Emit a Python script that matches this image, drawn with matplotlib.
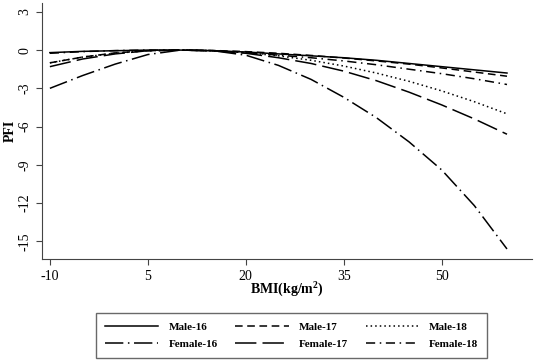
import numpy as np
import matplotlib.pyplot as plt

plt.rcParams['font.family'] = ['Liberation Serif', 'DejaVu Serif']
plt.rcParams['axes.unicode_minus'] = False
plt.rcParams['mathtext.default'] = 'regular'

bmi = [-10, -5, 0, 5, 10, 15, 20, 25, 30, 35, 40, 45, 50, 55, 60]

male_16 = [-0.2, -0.1, -0.05, 0, 0, -0.05, -0.15, -0.3, -0.45, -0.6, -0.8, -1.05, -1.3, -1.55, -1.8]
male_17 = [-1.0, -0.55, -0.22, -0.05, 0, -0.03, -0.12, -0.25, -0.42, -0.62, -0.85, -1.1, -1.4, -1.72, -2.05]
male_18 = [-1.0, -0.55, -0.25, -0.05, 0, -0.05, -0.2, -0.45, -0.8, -1.25, -1.8, -2.45, -3.2, -4.05, -5.0]
female_16 = [-3.0, -2.0, -1.1, -0.35, 0, -0.05, -0.4, -1.2, -2.3, -3.7, -5.3, -7.2, -9.4, -12.2, -15.6]
female_17 = [-1.3, -0.7, -0.3, -0.05, 0, -0.05, -0.25, -0.6, -1.05, -1.65, -2.4, -3.3, -4.3, -5.4, -6.6]
female_18 = [-0.25, -0.12, -0.04, 0, 0, -0.05, -0.2, -0.4, -0.6, -0.85, -1.15, -1.5, -1.85, -2.25, -2.7]

series = [
    ('Male-16', male_16, '-'),
    ('Male-17', male_17, (0, (5, 3))),
    ('Male-18', male_18, (0, (1, 2))),
    ('Female-16', female_16, (0, (12, 3, 1, 3))),
    ('Female-17', female_17, (0, (14, 4))),
    ('Female-18', female_18, (0, (6, 3, 1, 3))),
]

fig = plt.figure(figsize=(5.46, 3.64), dpi=100)
ax = fig.add_axes([0.077, 0.288, 0.897, 0.704])

handles = []
for name, vals, ls in series:
    h, = ax.plot(bmi, vals, color='black', linestyle=ls, linewidth=1.1, label=name)
    handles.append(h)

ax.set_xlim(-11.2, 63.8)
ax.set_ylim(-16.4, 3.7)
ax.set_xticks([-10, 5, 20, 35, 50])
ax.set_yticks([3, 0, -3, -6, -9, -12, -15])
ax.tick_params(direction='out', length=4, labelsize=10, color='#444444')
for lab in ax.get_yticklabels():
    lab.set_rotation(90)
    lab.set_va('center')
ax.spines['top'].set_visible(False)
ax.spines['right'].set_visible(False)
ax.spines['left'].set_color('#444444')
ax.spines['bottom'].set_color('#444444')
ax.set_xlabel('BMI(kg/m$^2$)', fontsize=10, fontweight='bold', labelpad=-1)
ax.set_ylabel('PFI', fontsize=10, fontweight='bold', labelpad=1)

# legend is filled by row in the reference, matplotlib fills by column
order = [0, 3, 1, 4, 2, 5]
leg = fig.legend([handles[i] for i in order], [series[i][0] for i in order],
                 loc='lower center', bbox_to_anchor=(0.534, 0.016),
                 ncol=3, prop={'size': 8, 'weight': 'bold'}, handlelength=4.8,
                 frameon=True, fancybox=False, edgecolor='#444444',
                 borderaxespad=0, borderpad=0.8, labelspacing=0.7,
                 columnspacing=1.6, handletextpad=0.9)
leg.get_frame().set_linewidth(1.0)

fig.savefig('out.png', dpi=100)
